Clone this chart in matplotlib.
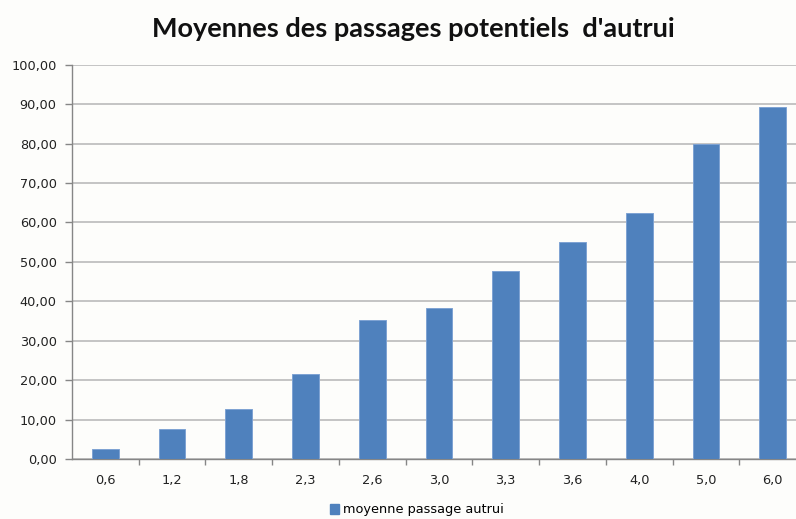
import numpy as np
import matplotlib.pyplot as plt
from matplotlib.patches import Patch
from matplotlib.ticker import FixedLocator, FuncFormatter

# moyennes par classe
categories = ["0,6", "1,2", "1,8", "2,3", "2,6", "3,0", "3,3", "3,6", "4,0", "5,0", "6,0"]
moyennes = [2.5, 7.7, 12.6, 21.5, 35.3, 38.2, 47.8, 55.1, 62.3, 80.0, 89.3]
yticks = np.arange(0, 101, 10)

bar_color = '#4F81BD'
grid_color = '#C4C4C4'
axis_color = '#868686'
bg = '#FDFDFB'

fig = plt.figure(figsize=(7.96, 5.19), dpi=100, facecolor=bg)
# the plot area runs a little past the right edge of the figure
ax = fig.add_axes([72/796, 60/519, 734/796, 394.3/519])
ax.set_facecolor(bg)

x = np.arange(len(categories))
ax.bar(x, moyennes, width=0.4, color=bar_color, edgecolor='#7EA3D3',
       linewidth=0.7, zorder=3)

ax.set_xlim(-0.5, len(categories) - 0.5)
ax.set_ylim(0, 100)
ax.set_yticks(yticks)
ax.yaxis.set_major_formatter(FuncFormatter(lambda v, p: ('%.2f' % v).replace('.', ',')))
ax.grid(axis='y', color=grid_color, linewidth=1.4, zorder=0)
ax.set_axisbelow(True)

ax.set_xticks(x)
ax.set_xticklabels(categories)
ax.xaxis.set_minor_locator(FixedLocator(np.arange(0.5, len(categories), 1.0)))
ax.tick_params(axis='x', which='major', length=0, pad=11, labelsize=9.3, labelcolor='#222222')
ax.tick_params(axis='x', which='minor', length=4, width=1, color=axis_color, direction='out')
ax.tick_params(axis='y', length=5, width=1, color=axis_color, pad=6,
               labelsize=9.3, labelcolor='#222222')

for side in ['top', 'right']:
    ax.spines[side].set_visible(False)
for side in ['left', 'bottom']:
    ax.spines[side].set_color(axis_color)
    ax.spines[side].set_linewidth(1)

fig.text(413/796, 1 - 29/519, "Moyennes des passages potentiels  d'autrui",
         ha='center', va='center', fontsize=19.5, fontweight='bold',
         family='Lato', color='#111111')

fig.legend(handles=[Patch(facecolor=bar_color, edgecolor=bar_color)],
           labels=['moyenne passage autrui'], loc='center left',
           bbox_to_anchor=(325/796, 1 - 510/519), frameon=False,
           handlelength=0.7, handleheight=0.7, handletextpad=0.3,
           fontsize=9.3, borderaxespad=0)

fig.savefig('out.png', dpi=100, facecolor=bg)
